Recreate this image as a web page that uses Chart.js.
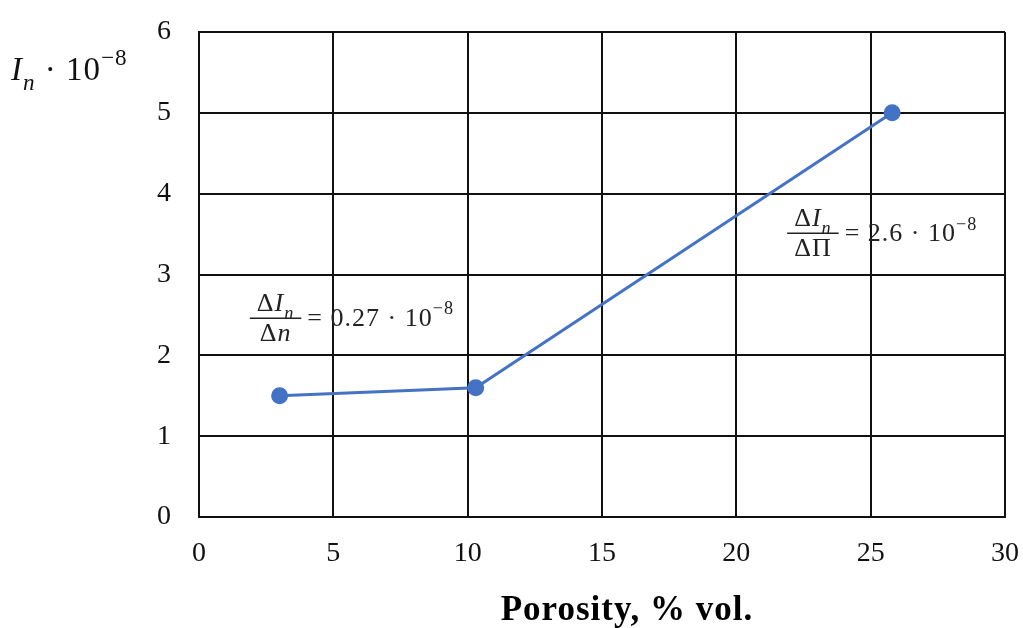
<!DOCTYPE html>
<html>
<head>
<meta charset="utf-8">
<script src="https://cdn.jsdelivr.net/npm/chart.js@4.4.1/dist/chart.umd.min.js"></script>
<style>
  html, body { margin: 0; padding: 0; background: #fff; }
  #wrap { width: 1023px; height: 628px; }
</style>
</head>
<body>
<div id="wrap"><canvas id="chartPlace"></canvas></div>
<script>
// data
const porosity = [3, 10.3, 25.8];
const intensity = [1.5, 1.6, 5.0];
const xTicks = [0, 5, 10, 15, 20, 25, 30];
const yTicks = [0, 1, 2, 3, 4, 5, 6];
const xTitle = 'Porosity, % vol.';

const mathFont = '"Liberation Serif", serif';

// draw a run of text pieces (italic / sub / sup), returns end x
function drawParts(ctx, x, y, parts, size, measureOnly) {
  for (const p of parts) {
    const fs = (p.sub || p.sup) ? size * 0.7 : size;
    ctx.font = (p.it ? 'italic ' : '') + fs + 'px ' + mathFont;
    const dy = p.sub ? size * 0.3 : (p.sup ? -size * 0.45 : 0);
    if (!measureOnly) ctx.fillText(p.t, x, y + dy);
    x += ctx.measureText(p.t).width;
  }
  return x;
}

function drawFraction(ctx, cx, cy, num, den, rhs, size) {
  ctx.letterSpacing = '1px';
  const nw = drawParts(ctx, 0, 0, num, size, true);
  const dw = drawParts(ctx, 0, 0, den, size, true);
  const w = Math.max(nw, dw) + 14;
  ctx.fillStyle = '#222';
  ctx.strokeStyle = '#222';
  ctx.lineWidth = 1.5;
  ctx.beginPath();
  ctx.moveTo(cx - w / 2, cy);
  ctx.lineTo(cx + w / 2, cy);
  ctx.stroke();
  drawParts(ctx, cx - nw / 2, cy - 7, num, size);
  drawParts(ctx, cx - dw / 2, cy + 23, den, size);
  drawParts(ctx, cx + w / 2 + 6, cy + 8, rhs, size);
  ctx.letterSpacing = '0px';
}

const annotations = [
  { x: 2.85, y: 2.46,
    num: [{t: 'Δ'}, {t: 'I', it: 1}, {t: 'n', it: 1, sub: 1}],
    den: [{t: 'Δ'}, {t: 'n', it: 1}],
    rhs: [{t: '= 0.27 · 10'}, {t: '−8', sup: 1}] },
  { x: 22.85, y: 3.51,
    num: [{t: 'Δ'}, {t: 'I', it: 1}, {t: 'n', it: 1, sub: 1}],
    den: [{t: 'ΔΠ'}],
    rhs: [{t: '= 2.6 · 10'}, {t: '−8', sup: 1}] }
];

const yTitleParts = [{t: 'I', it: 1}, {t: 'n', it: 1, sub: 1}, {t: ' · 10'}, {t: '−8', sup: 1}];

const textPlugin = {
  id: 'textPlugin',
  afterDatasetsDraw(chart) {
    const ctx = chart.ctx;
    const xs = chart.scales.x, ys = chart.scales.y;
    ctx.save();
    ctx.textBaseline = 'alphabetic';
    ctx.textAlign = 'left';
    for (const a of annotations) {
      drawFraction(ctx, xs.getPixelForValue(a.x), ys.getPixelForValue(a.y), a.num, a.den, a.rhs, 26);
    }
    ctx.fillStyle = '#111';
    ctx.letterSpacing = '1px';
    drawParts(ctx, 11, 80, yTitleParts, 33);
    // x axis title
    ctx.letterSpacing = '1px';
    ctx.fillStyle = '#000';
    ctx.font = 'bold 35px "Liberation Serif"';
    ctx.textAlign = 'center';
    ctx.fillText(xTitle, 627, 620);
    ctx.restore();
  }
};

const ctx = document.getElementById('chartPlace').getContext('2d');
const chart = new Chart(ctx, {
  type: 'line',
  data: {
    datasets: [{
      data: porosity.map((v, i) => ({x: v, y: intensity[i]})),
      borderColor: '#4472C4',
      backgroundColor: '#4472C4',
      borderWidth: 3,
      pointRadius: 7,
      pointHoverRadius: 7,
      tension: 0
    }]
  },
  options: {
    responsive: true,
    maintainAspectRatio: false,
    animation: false,
    layout: { padding: { top: 32, right: 18, left: 0, bottom: 0 } },
    plugins: { legend: { display: false }, tooltip: { enabled: false } },
    scales: {
      x: {
        type: 'linear',
        min: xTicks[0],
        max: xTicks[xTicks.length - 1],
        afterBuildTicks: s => { s.ticks = xTicks.map(v => ({value: v})); },
        afterFit: s => { s.height = 111; s.paddingLeft = 0; s.paddingRight = 0; },
        grid: { color: '#111', lineWidth: 2, drawTicks: false },
        border: { color: '#111', width: 2 },
        ticks: { padding: 20, color: '#111', font: { family: '"Liberation Serif"', size: 28 } }
      },
      y: {
        min: yTicks[0],
        max: yTicks[yTicks.length - 1],
        afterBuildTicks: s => { s.ticks = yTicks.map(v => ({value: v})); },
        afterFit: s => { s.width = 199; s.paddingTop = 0; s.paddingBottom = 0; },
        grid: { color: '#111', lineWidth: 2, drawTicks: false },
        border: { color: '#111', width: 2 },
        ticks: { padding: 28, color: '#111', font: { family: '"Liberation Serif"', size: 28 } }
      }
    }
  },
  plugins: [textPlugin]
});
</script>
</body>
</html>
